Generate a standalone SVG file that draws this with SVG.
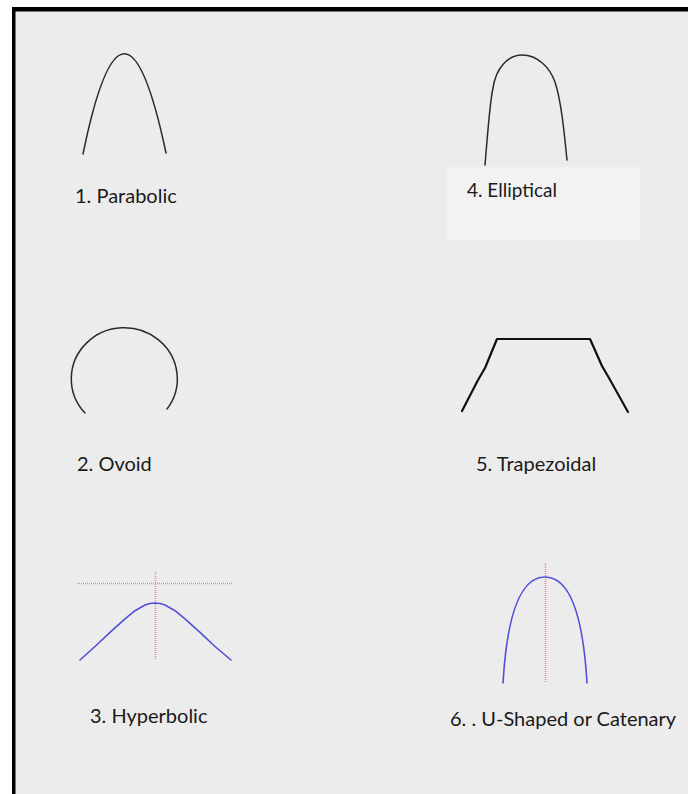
<svg xmlns="http://www.w3.org/2000/svg" width="688" height="794" viewBox="0 0 688 794">
<style>
.lbl{font-family:Lato,"Open Sans","Liberation Sans",sans-serif;font-size:20px;fill:#1a1a1a}
.curve{fill:none;stroke:#2a2a2a;stroke-width:1.5;stroke-linecap:round;stroke-linejoin:round}
.blue{fill:none;stroke:#5050d8;stroke-width:1.6;stroke-linecap:round}
.guide{fill:none;stroke:#e38a8a;stroke-width:1.5;stroke-dasharray:1 1}
</style>
<rect x="0" y="0" width="688" height="794" fill="#ffffff"/>
<rect x="12" y="7" width="676" height="787" fill="#ececec"/>
<rect x="12" y="7" width="676" height="4.5" fill="#000"/>
<rect x="12" y="7" width="3.5" height="787" fill="#000"/>
<g id="parabolic">
<path class="curve" d="M83,154 Q124,-46 166,153"/>
<text class="lbl" x="75" y="203">1. Parabolic</text>
</g>
<g id="elliptical">
<path class="curve" d="M485,165 C488,130 490,100 493,88 C496,68 508,55 522,55 C538,55 550,68 555,82 C561,100 564,130 567,160"/>
<rect x="447" y="167" width="193" height="73" fill="#f2f2f2"/>
<text class="lbl" style="font-size:19px" x="467" y="197">4. Elliptical</text>
</g>
<g id="ovoid">
<path class="curve" d="M85,413 A53,51 0 1 1 167,409"/>
<text class="lbl" x="77" y="471">2. Ovoid</text>
</g>
<g id="trapezoidal">
<path class="curve" style="stroke-width:2.2;stroke:#111" d="M462,411 L478,380 L485,368 L497,339 L590,339 L602,366 L609,378 L628,412"/>
<text class="lbl" x="476" y="471">5. Trapezoidal</text>
</g>
<g id="hyperbolic">
<line class="guide" x1="77" y1="583.5" x2="233" y2="583.5"/>
<line class="guide" x1="155.5" y1="572" x2="155.5" y2="660"/>
<path class="blue" d="M80,660 L95,646.5 L110,632.3 L125,618.8 L135,610.7 L145,605 L150,603.5 L155,603 L160,603.5 L165,605 L175,610.7 L185,618.8 L200,632.3 L215,646.5 L231,660"/>
<text class="lbl" x="90" y="723">3. Hyperbolic</text>
</g>
<g id="catenary">
<line class="guide" x1="545.5" y1="563" x2="545.5" y2="682"/>
<path class="blue" d="M503,683 C507,615 520,577 545,577 C570,577 583,615 587,683"/>
<text class="lbl" x="450" y="726">6. . U-Shaped or Catenary</text>
</g>
</svg>
